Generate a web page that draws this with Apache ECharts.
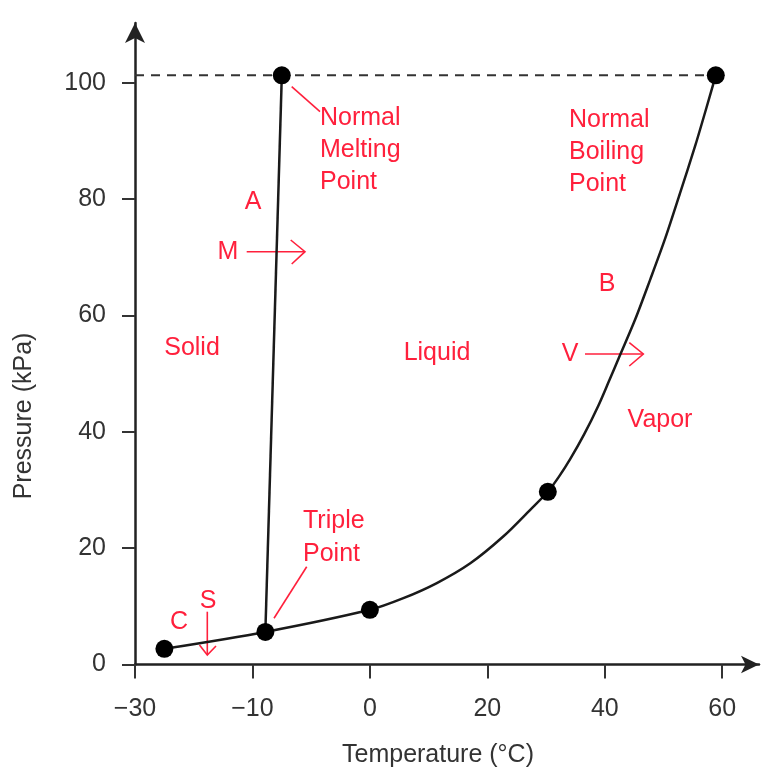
<!DOCTYPE html>
<html><head><meta charset="utf-8">
<script src="https://cdn.jsdelivr.net/npm/echarts@6/dist/echarts.min.js"></script>
<style>html,body{margin:0;padding:0;background:#fff}#c{width:769px;height:768px}</style>
</head><body><div id="c"></div>
<script>
// Tick labels of the (schematic, non-uniform) temperature axis and pressure axis
const xTickLabels = [-30, -10, 0, 20, 40, 60];
const yTickLabels = [0, 20, 40, 60, 80, 100];

// Sublimation + vaporization curve (°C, kPa)
const curveTemps = [-25, -8.9, 0, 5.7, 11.4, 17.1, 22.7, 27.3, 30.3, 32.2, 34.1, 36.5, 38.9, 40.7, 42.6, 45.2, 47.7, 50.3, 52.8, 55.4, 57.1, 58.9];
const curvePress = [2.7, 5.6, 9.4, 11.4, 14.0, 17.4, 22.0, 26.6, 29.7, 32.3, 35.3, 39.6, 44.5, 48.7, 53.2, 59.4, 66.1, 73.3, 81.0, 89.2, 95.0, 101.3];

// Melting curve
const meltTemps = [-8.9, -7.5];
const meltPress = [5.6, 101.3];

// Marked points
const pointTemps = [-25, -8.9, 0, 30.3, -7.5, 58.9];
const pointPress = [2.7, 5.6, 9.4, 29.7, 101.3, 101.3];

// 1 atm reference line
const dashTemps = [-30, 58.9];
const dashPress = [101.3, 101.3];

// Map a temperature onto the axis (ticks are evenly spaced although their values are not)
function xPos(t) {
  const v = xTickLabels;
  for (let i = 0; i < v.length - 1; i++) {
    if (t <= v[i + 1] || i === v.length - 2) return i + (t - v[i]) / (v[i + 1] - v[i]);
  }
}
const pairs = (xs, ys) => xs.map((t, i) => [xPos(t), ys[i]]);

const RED = '#ff203c';
const FONT = 'Liberation Sans';
const txt = (x, y, s, align, lh) => ({
  type: 'text', x: x, y: y, silent: true,
  style: { text: s, fill: RED, fontSize: 25, fontFamily: FONT,
           align: align || 'center', verticalAlign: 'middle',
           textAlign: align || 'center', textVerticalAlign: 'middle',
           lineHeight: lh || 32 }
});
const pl = (pts) => ({ type: 'polyline', silent: true, shape: { points: pts },
  style: { stroke: RED, lineWidth: 1.6, fill: null } });

const chart = echarts.init(document.getElementById('c'), null, { renderer: 'canvas' });
const ticksX = xTickLabels.map((v, i) => i);
chart.setOption({
  animation: false,
  backgroundColor: '#fff',
  grid: { left: 135, right: 10, top: 23, bottom: 103.5, containLabel: false },
  xAxis: {
    type: 'value', min: 0, max: 5.313,
    axisLine: { show: true, symbol: ['none', 'arrow'], symbolSize: [13, 18],
                lineStyle: { color: '#222', width: 2.5 } },
    axisTick: { show: true, customValues: ticksX, length: 14, lineStyle: { color: '#333', width: 2 } },
    axisLabel: { customValues: ticksX, margin: 32, fontSize: 25, fontFamily: FONT, color: '#333',
                 formatter: v => { const n = xTickLabels[Math.round(v)]; return n < 0 ? '\u2212' + Math.abs(n) : String(n); } },
    splitLine: { show: false }
  },
  yAxis: {
    type: 'value', min: 0, max: 110.3,
    axisLine: { show: true, symbol: ['none', 'arrow'], symbolSize: [15, 20],
                lineStyle: { color: '#222', width: 2.5 } },
    axisTick: { show: true, customValues: yTickLabels, length: 13, lineStyle: { color: '#333', width: 2 } },
    axisLabel: { customValues: yTickLabels, margin: 29, fontSize: 25, fontFamily: FONT, color: '#333' },
    splitLine: { show: false }
  },
  series: [
    { type: 'line', data: pairs(dashTemps, dashPress), symbol: 'none', silent: true,
      lineStyle: { color: '#333', width: 2, type: [9, 7] }, z: 2 },
    { type: 'line', data: pairs(curveTemps, curvePress), symbol: 'none', smooth: 0.3, silent: true,
      lineStyle: { color: '#1a1a1a', width: 2.5 }, z: 3 },
    { type: 'line', data: pairs(meltTemps, meltPress), symbol: 'none', silent: true,
      lineStyle: { color: '#1a1a1a', width: 2.5 }, z: 3 },
    { type: 'scatter', data: pairs(pointTemps, pointPress), symbol: 'circle', symbolSize: 18,
      itemStyle: { color: '#000', opacity: 1 }, silent: true, z: 5 }
  ],
  graphic: [
    // axis names
    { type: 'text', x: 438, y: 755, silent: true,
      style: { text: 'Temperature (\u00B0C)', fill: '#333', fontSize: 25, fontFamily: FONT,
               align: 'center', verticalAlign: 'middle', textAlign: 'center', textVerticalAlign: 'middle' } },
    { type: 'text', x: 24, y: 416, rotation: Math.PI / 2, silent: true,
      style: { text: 'Pressure (kPa)', fill: '#333', fontSize: 25, fontFamily: FONT,
               align: 'center', verticalAlign: 'middle', textAlign: 'center', textVerticalAlign: 'middle' } },
    // annotations
    txt(320, 150, 'Normal\nMelting\nPoint', 'left', 32),
    txt(569, 152, 'Normal\nBoiling\nPoint', 'left', 32),
    txt(303, 538, 'Triple\nPoint', 'left', 33),
    txt(253, 202, 'A'),
    txt(228, 252, 'M'),
    txt(607, 284, 'B'),
    txt(192, 348, 'Solid'),
    txt(437, 353, 'Liquid'),
    txt(570, 354, 'V'),
    txt(660, 420, 'Vapor'),
    txt(179, 622, 'C'),
    txt(208, 601, 'S'),
    pl([[291.7, 86.7], [320, 111.7]]),
    pl([[306.7, 566.7], [274, 618.3]]),
    pl([[246.7, 251.7], [305, 251.7]]),
    pl([[290.7, 240], [305, 251.7], [291.7, 264]]),
    pl([[585, 354], [643.3, 354]]),
    pl([[629.3, 342.7], [643.3, 354], [629.3, 366]]),
    pl([[207.3, 611.7], [207.3, 655]]),
    pl([[199.5, 645], [207.3, 655], [216, 646]])
  ]
});
</script></body></html>
